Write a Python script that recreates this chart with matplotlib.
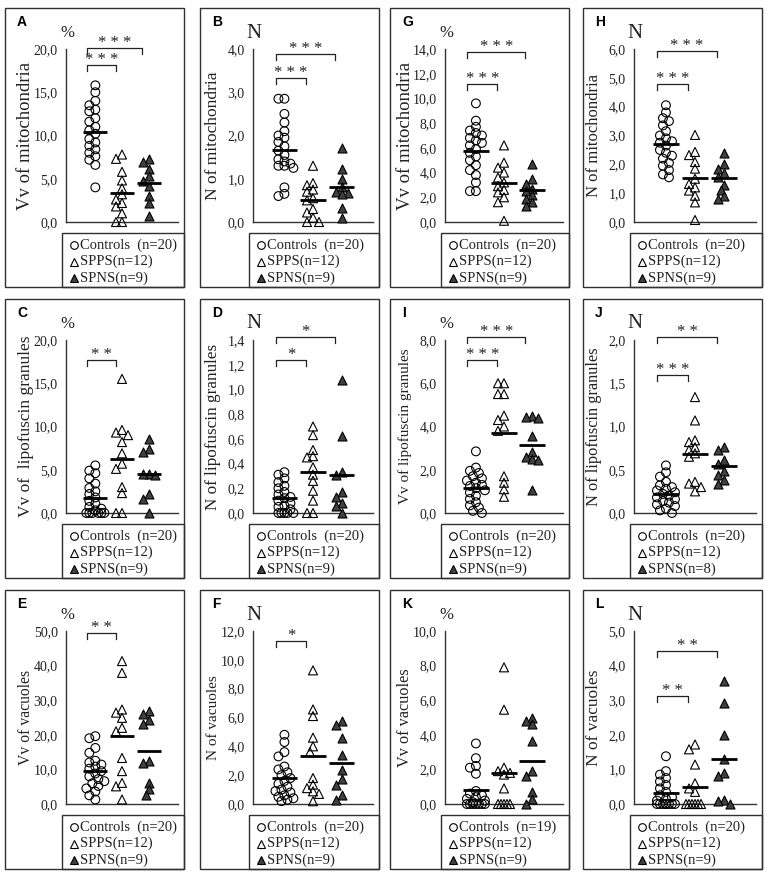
import numpy as np
import matplotlib.pyplot as plt
from matplotlib.patches import Rectangle
from matplotlib.lines import Line2D

# ---------------------------------------------------------------- data
a_ctrl = [15.8, 15.0, 14.0, 13.5, 13.0, 12.8, 12.0, 11.6, 11.0, 10.6, 10.2, 9.6, 9.2, 8.8, 8.4, 8.0, 7.6, 7.2, 6.6, 4.0]
a_spps = [7.8, 7.3, 5.8, 4.8, 3.9, 3.2, 2.6, 2.2, 1.8, 1.0, 0.0, 0.0]
a_spns = [7.3, 6.9, 6.1, 5.3, 4.7, 4.2, 3.0, 2.2, 0.7]

b_ctrl = [2.85, 2.85, 2.5, 2.3, 2.1, 2.0, 1.95, 1.85, 1.75, 1.65, 1.55, 1.45, 1.4, 1.35, 1.3, 1.3, 1.25, 0.8, 0.65, 0.6]
b_spps = [1.3, 0.9, 0.85, 0.75, 0.7, 0.55, 0.5, 0.3, 0.22, 0.1, 0.0, 0.0]
b_spns = [1.72, 1.22, 0.99, 0.8, 0.7, 0.68, 0.64, 0.33, 0.1]

g_ctrl = [9.6, 8.2, 7.7, 7.4, 7.2, 7.0, 6.8, 6.6, 6.4, 6.2, 5.9, 5.6, 5.3, 5.0, 4.6, 4.2, 3.8, 3.2, 2.5, 2.5]
g_spps = [6.2, 4.8, 4.4, 4.0, 3.6, 3.2, 2.9, 2.6, 2.4, 2.0, 1.6, 0.1]
g_spns = [4.7, 3.5, 3.1, 2.7, 2.5, 2.2, 1.9, 1.6, 1.3]

h_ctrl = [4.05, 3.8, 3.6, 3.5, 3.35, 3.15, 3.0, 2.9, 2.8, 2.75, 2.65, 2.5, 2.4, 2.3, 2.2, 2.05, 1.95, 1.8, 1.65, 1.55]
h_spps = [3.02, 2.43, 2.32, 2.08, 1.85, 1.5, 1.32, 1.2, 1.09, 0.91, 0.68, 0.07]
h_spns = [2.4, 2.0, 1.85, 1.7, 1.55, 1.3, 1.1, 0.9, 0.8]

c_ctrl = [5.5, 4.9, 4.6, 4.0, 3.4, 2.9, 2.5, 2.2, 1.8, 1.4, 1.1, 0.7, 0.5, 0.3, 0.0, 0.0, 0.0, 0.0, 0.0, 0.0]
c_spps = [15.5, 9.6, 9.3, 9.0, 8.2, 6.9, 5.7, 5.1, 3.0, 2.3, 0.0, 0.0]
c_spns = [8.6, 7.45, 7.1, 4.55, 4.55, 4.4, 2.25, 1.65, 0.0]

d_ctrl = [0.33, 0.31, 0.28, 0.25, 0.22, 0.2, 0.17, 0.15, 0.13, 0.12, 0.1, 0.08, 0.06, 0.05, 0.03, 0.0, 0.0, 0.0, 0.0, 0.0]
d_spps = [0.70, 0.63, 0.51, 0.46, 0.45, 0.37, 0.31, 0.26, 0.18, 0.1, 0.0, 0.0]
d_spns = [1.08, 0.62, 0.33, 0.31, 0.17, 0.13, 0.08, 0.06, 0.0]

i_ctrl = [2.85, 2.1, 1.95, 1.85, 1.7, 1.6, 1.5, 1.4, 1.3, 1.25, 1.15, 1.05, 0.95, 0.8, 0.65, 0.5, 0.35, 0.25, 0.1, 0.0]
i_spps = [6.0, 6.0, 5.5, 5.5, 4.5, 4.3, 4.0, 3.8, 1.7, 1.4, 1.1, 0.75]
i_spns = [4.5, 4.45, 4.4, 3.55, 2.8, 2.6, 2.5, 2.45, 1.05]

j_ctrl = [0.55, 0.47, 0.42, 0.36, 0.32, 0.3, 0.28, 0.26, 0.24, 0.22, 0.2, 0.18, 0.16, 0.14, 0.12, 0.1, 0.08, 0.05, 0.03, 0.0]
j_spps = [1.34, 1.07, 0.84, 0.82, 0.76, 0.73, 0.69, 0.65, 0.36, 0.34, 0.3, 0.25]
j_spns = [0.76, 0.73, 0.61, 0.57, 0.49, 0.44, 0.38, 0.34]

e_ctrl = [19.6, 19.0, 16.2, 14.8, 12.5, 12.0, 11.4, 10.8, 10.2, 9.5, 8.8, 8.0, 7.2, 6.6, 6.0, 5.2, 4.5, 3.6, 2.5, 1.3]
e_spps = [41.3, 37.9, 27.3, 26.4, 24.9, 22.0, 21.0, 13.3, 9.5, 6.1, 5.1, 1.3]
e_spns = [27.0, 25.9, 24.4, 23.0, 12.4, 11.9, 6.0, 4.2, 2.5]

f_ctrl = [4.8, 4.3, 3.6, 3.3, 2.6, 2.4, 2.2, 2.0, 1.8, 1.6, 1.4, 1.2, 1.0, 0.9, 0.8, 0.6, 0.5, 0.4, 0.3, 0.2]
f_spps = [9.27, 6.56, 6.1, 4.6, 4.0, 3.6, 1.8, 1.34, 1.1, 0.88, 0.7, 0.19]
f_spns = [5.75, 5.5, 4.6, 3.43, 2.39, 1.7, 1.34, 0.65, 0.3]

k_ctrl = [3.5, 2.65, 2.2, 2.1, 1.75, 0.75, 0.6, 0.5, 0.4, 0.3, 0.2, 0.1, 0.0, 0.0, 0.0, 0.0, 0.0, 0.0, 0.0]
k_spps = [7.9, 5.45, 2.1, 1.9, 1.8, 1.7, 0.9, 0.0, 0.0, 0.0, 0.0, 0.0]
k_spns = [5.0, 4.8, 4.6, 3.65, 1.9, 1.6, 0.7, 0.3, 0.0]

l_ctrl = [1.38, 0.95, 0.85, 0.75, 0.65, 0.55, 0.45, 0.35, 0.25, 0.2, 0.15, 0.1, 0.0, 0.0, 0.0, 0.0, 0.0, 0.0, 0.0, 0.0]
l_spps = [1.72, 1.58, 1.14, 0.6, 0.45, 0.35, 0.0, 0.0, 0.0, 0.0, 0.0, 0.0]
l_spns = [3.55, 2.92, 2.0, 1.3, 0.9, 0.8, 0.12, 0.08, 0.0]

group_names = ["Controls", "SPPS", "SPNS"]

# letter, (row, col), groups, ymax, step, ylabel, unit, ylabel size, brackets (group, stars, height in axes frac)
panels = [
    ("A", (0, 0), (a_ctrl, a_spps, a_spns), 20, 5, "Vv of mitochondria", "%", 13.5,
     [(1, "***", 0.905), (2, "***", 1.005)]),
    ("B", (0, 1), (b_ctrl, b_spps, b_spns), 4, 1, "N of mitochondria", "N", 12.5,
     [(1, "***", 0.832), (2, "***", 0.971)]),
    ("G", (0, 2), (g_ctrl, g_spps, g_spns), 14, 2, "Vv of mitochondria", "%", 13.5,
     [(1, "***", 0.80), (2, "***", 0.983)]),
    ("H", (0, 3), (h_ctrl, h_spps, h_spns), 6, 1, "N of mitochondria", "N", 12,
     [(1, "***", 0.80), (2, "***", 0.988)]),
    ("C", (1, 0), (c_ctrl, c_spps, c_spns), 20, 5, "Vv of  lipofuscin granules", "%", 12.5,
     [(1, "**", 0.884)]),
    ("D", (1, 1), (d_ctrl, d_spps, d_spns), 1.4, 0.2, "N of lipofuscin granules", "N", 12.3,
     [(1, "*", 0.884), (2, "*", 1.017)]),
    ("I", (1, 2), (i_ctrl, i_spps, i_spns), 8, 2, "Vv of lipofuscin granules", "%", 11,
     [(1, "***", 0.884), (2, "***", 1.017)]),
    ("J", (1, 3), (j_ctrl, j_spps, j_spns), 2.0, 0.5, "N of lipofuscin granules", "N", 11.8,
     [(1, "***", 0.80), (2, "**", 1.017)]),
    ("E", (2, 0), (e_ctrl, e_spps, e_spns), 50, 10, "Vv of vacuoles", "%", 11.3,
     [(1, "**", 0.988)]),
    ("F", (2, 1), (f_ctrl, f_spps, f_spns), 12, 2, "N of vacuoles", "N", 11,
     [(1, "*", 0.942)]),
    ("K", (2, 2), (k_ctrl, k_spps, k_spns), 10, 2, "Vv of vacuoles", "%", 11.7, []),
    ("L", (2, 3), (l_ctrl, l_spps, l_spns), 5, 1, "N of vacuoles", "N", 12.5,
     [(1, "**", 0.624), (2, "**", 0.884)]),
]

# ---------------------------------------------------------------- layout (pixels)
W, H = 767, 877
SERIF = "Liberation Serif"
col_left = [5, 200, 390, 583]
row_top = [8, 299, 590]
box_w, box_h = 179, 279
ax_off = [61, 53, 55, 51]
ax_right = 173
ax_top, ax_bot = 41, 214
leg_top = 225
XLIM = (-1.1, 3.1)

markers = [dict(marker="o", s=40, facecolors="none", edgecolors="black"),
           dict(marker="^", s=42, facecolors="none", edgecolors="black"),
           dict(marker="^", s=42, facecolors="#404040", edgecolors="black")]


def fx(px):
    return px / W


def fy(py):
    return 1 - py / H


def swarm(vals, px_per_unit, dmin=6.0, step=3.0, max_off=9.0):
    # horizontal offsets (in px) so that close values sit side by side
    vals = np.asarray(vals, dtype=float)
    offs = np.zeros(len(vals))
    placed = []
    cands = [0.0]
    k = 1
    while k * step <= max_off:
        cands += [-k * step, k * step]
        k += 1
    for i in np.argsort(-vals, kind="stable"):
        y = vals[i] * px_per_unit
        best, bestd = 0.0, -1.0
        for c in cands:
            d = min([np.hypot(c - px, y - py) for px, py in placed], default=1e9)
            if d >= dmin:
                best = c
                break
            if d > bestd:
                best, bestd = c, d
        offs[i] = best
        placed.append((best, y))
    return offs


def fmt(v):
    return f"{v:.1f}".replace(".", ",")


fig = plt.figure(figsize=(W / 100, H / 100), dpi=100)

for letter, (r, c), groups, ymax, step, ylabel, unit, yl_size, brackets in panels:
    bx, by = col_left[c], row_top[r]
    axl, axr = bx + ax_off[c], bx + ax_right
    ax_w, ax_h = axr - axl, ax_bot - ax_top

    # panel frame
    fig.add_artist(Rectangle((fx(bx), fy(by + box_h)), box_w / W, box_h / H,
                             transform=fig.transFigure, fill=False, ec="#303030", lw=1.0))
    fig.text(fx(bx + 12), fy(by + 14), letter, fontsize=10, fontweight="bold",
             family="Liberation Sans", va="center", ha="left")

    ax = fig.add_axes([fx(axl), fy(by + ax_bot), ax_w / W, ax_h / H])
    ax.set_xlim(*XLIM)
    ax.set_ylim(0, ymax)
    ax.patch.set_alpha(0)
    for s in ["top", "right"]:
        ax.spines[s].set_visible(False)
    for s in ["left", "bottom"]:
        ax.spines[s].set_color("#333333")
        ax.spines[s].set_linewidth(1.0)
    ax.set_xticks([])
    ticks = np.arange(0, ymax + step / 2, step)
    ax.set_yticks(ticks)
    ax.set_yticklabels([fmt(t) for t in ticks], family=SERIF, fontsize=10)
    ax.tick_params(axis="y", length=0, pad=6, colors="#222222")
    ax.set_ylabel(ylabel, family=SERIF, fontsize=yl_size, va="center", color="#222222")
    ax.yaxis.set_label_coords(-40 / ax_w, 0.5)

    px_y = ax_h / ymax
    px_x = ax_w / (XLIM[1] - XLIM[0])
    for g, vals in enumerate(groups):
        offs = swarm(vals, px_y) / px_x
        ax.scatter(g + offs, vals, linewidths=0.8, clip_on=False, zorder=3, **markers[g])
        m = np.mean(vals)
        ax.plot([g - 0.45, g + 0.45], [m, m], color="black", lw=2.0,
                solid_capstyle="butt", clip_on=False, zorder=4)

    # significance brackets
    tr = ax.get_xaxis_transform()
    drop = 6 / ax_h
    for tgt, stars, h in brackets:
        x0, x1 = -0.3, tgt - 0.24
        ax.plot([x0, x0, x1, x1], [h - drop, h, h, h - drop], transform=tr,
                color="#222222", lw=0.9, clip_on=False)
        ax.text((x0 + x1) / 2, h + 1.0 / ax_h, " ".join(stars), transform=tr,
                ha="center", va="baseline", family=SERIF, fontsize=12, color="#222222")

    # unit label
    fig.text(fx(axl + 1), fy(by + ax_top - 16), unit, ha="center", va="center",
             family=SERIF, fontsize=12 if unit == "%" else 15, color="#222222")

    # legend box
    lx = axl - 4
    fig.add_artist(Rectangle((fx(lx), fy(by + box_h)), (bx + box_w - lx) / W,
                             (box_h - leg_top) / H, transform=fig.transFigure,
                             fill=False, ec="#303030", lw=1.0))
    labels = [f"{group_names[0]}  (n={len(groups[0])})",
              f"{group_names[1]}(n={len(groups[1])})",
              f"{group_names[2]}(n={len(groups[2])})"]
    for k, lab in enumerate(labels):
        yy = by + leg_top + 12 + k * 16.5
        mk = markers[k]
        fig.add_artist(Line2D([fx(lx + 12)], [fy(yy)], transform=fig.transFigure,
                              marker=mk["marker"], markersize=5.5, markeredgewidth=0.8,
                              markerfacecolor=mk["facecolors"], markeredgecolor="black",
                              linestyle="none"))
        fig.text(fx(lx + 18), fy(yy), lab, va="center", ha="left", family=SERIF,
                 fontsize=10.5, color="#222222")

fig.savefig("out.png", dpi=100)
